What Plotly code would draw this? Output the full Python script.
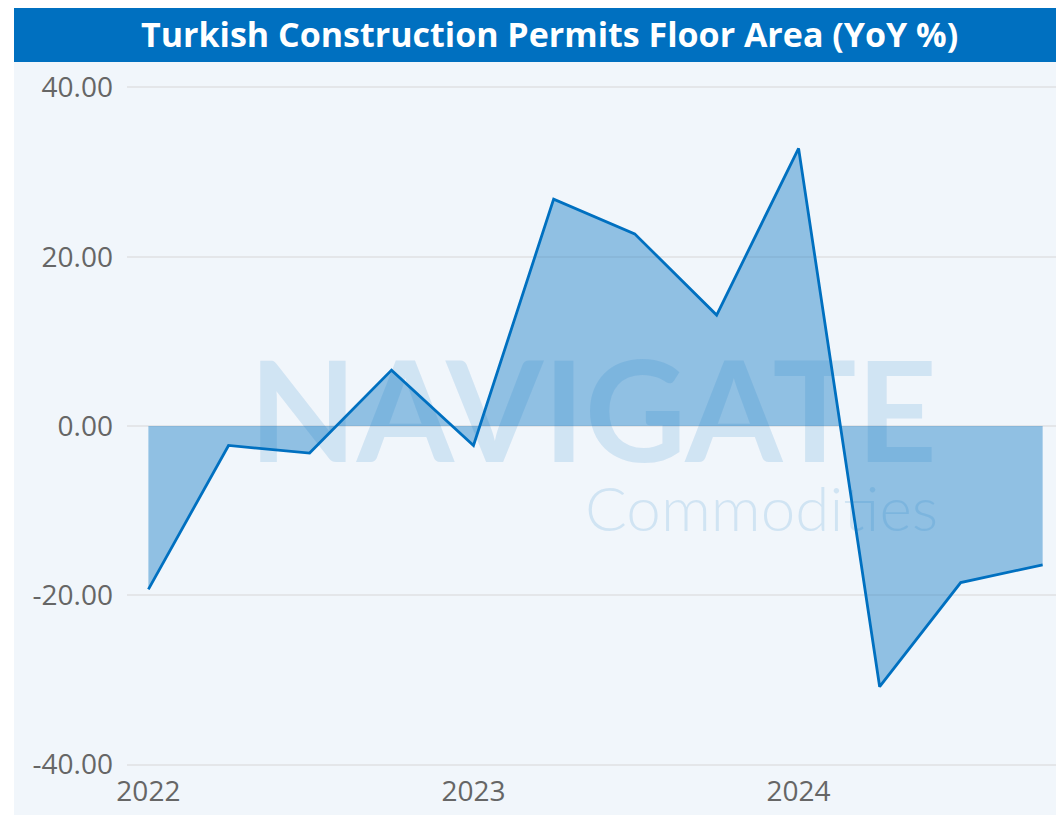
import plotly.graph_objects as go

quarters = ["2022-01-01", "2022-04-01", "2022-07-01", "2022-10-01",
            "2023-01-01", "2023-04-01", "2023-07-01", "2023-10-01",
            "2024-01-01", "2024-04-01", "2024-07-01", "2024-10-01"]
yoy_pct = [-19.3, -2.3, -3.2, 6.6, -2.3, 26.8, 22.7, 13.1, 32.8, -30.8, -18.5, -16.4]

y_ticks = [-40, -20, 0, 20, 40]
y_tick_labels = ["-40.00", "-20.00", "0.00", "20.00", "40.00"]
title_text = "Turkish Construction Permits Floor Area (YoY %)"

fig = go.Figure()
fig.add_trace(go.Scatter(
    x=quarters, y=yoy_pct, mode="lines",
    line=dict(color="#0070C0", width=2.8),
    fill="tozeroy", fillcolor="rgba(0,112,192,0.4)",
    hoverinfo="x+y", showlegend=False,
))

W, H = 1048, 807
L, R, T, B = 119, 0, 76, 47
pw, ph = W - L - R, H - T - B

def px(x):
    return (x - L) / pw

def py(y):
    return (H - B - y) / ph

fig.update_layout(
    width=W, height=H,
    margin=dict(l=L, r=R, t=T, b=B, pad=0),
    paper_bgcolor="white",
    plot_bgcolor="rgba(0,0,0,0)",
    font=dict(family="Open Sans, Noto Sans, sans-serif", color="#666666"),
    shapes=[
        dict(type="rect", xref="paper", yref="paper", x0=px(6), x1=px(W + 5),
             y0=py(H + 5), y1=py(54), fillcolor="#F1F6FB", line=dict(width=0), layer="below"),
        dict(type="rect", xref="paper", yref="paper", x0=px(6), x1=px(W + 5),
             y0=py(54), y1=py(-5), fillcolor="#0070C0", line=dict(width=0), layer="below"),
    ],
    annotations=[
        dict(text=title_text, xref="paper", yref="paper", x=px(541), y=py(26),
             xanchor="center", yanchor="middle", showarrow=False,
             font=dict(family="Open Sans, sans-serif", size=34, color="white", weight="bold")),
        dict(text="NAVIGATE", xref="paper", yref="paper", x=px(585), y=py(400),
             xanchor="center", yanchor="middle", showarrow=False,
             font=dict(family="Lato, sans-serif", size=140, color="rgba(0,112,192,0.135)", weight="bold")),
        dict(text="Commodities", xref="paper", yref="paper", x=px(753), y=py(499),
             xanchor="center", yanchor="middle", showarrow=False,
             font=dict(family="Lato, sans-serif", size=62, color="rgba(0,112,192,0.135)", weight=300)),
    ],
    xaxis=dict(
        range=["2021-12-08", "2024-10-16"],
        tick0="2022-01-01", dtick="M12", tickformat="%Y",
        showgrid=False, zeroline=False, showline=False, ticks="",
        tickfont=dict(size=28, color="#666666"), ticklabelstandoff=4,
    ),
    yaxis=dict(
        range=[-40.4, 40.4],
        tickvals=y_ticks, ticktext=y_tick_labels,
        showgrid=True, gridcolor="#E4E6E9", gridwidth=1.5,
        zeroline=False, showline=False, ticks="",
        tickfont=dict(size=28, color="#666666"), ticklabelstandoff=13,
    ),
)

fig.write_html("out.html")
